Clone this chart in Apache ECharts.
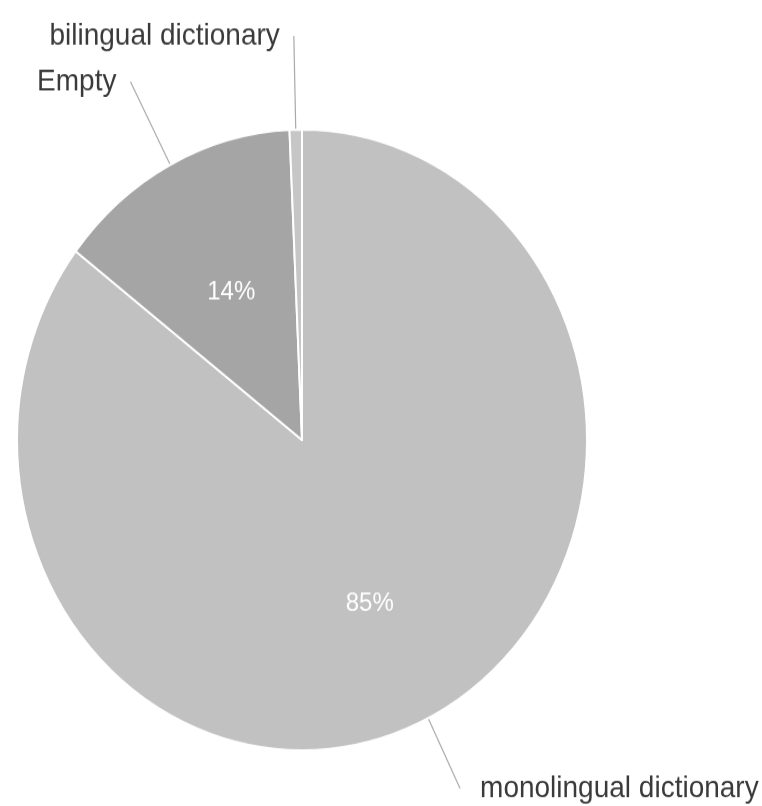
<!DOCTYPE html>
<html>
<head>
<meta charset="utf-8">
<script src="https://cdn.jsdelivr.net/npm/echarts@6/dist/echarts.min.js"></script>
<style>
  html, body { margin: 0; padding: 0; background: #fff; }
  #wrap { width: 762px; height: 806px; position: relative; overflow: hidden; }
  /* reference pie is stretched vertically, so the chart is drawn and then scaled */
  #main { position: absolute; left: 0; top: 0; width: 762px; height: 740px; transform: scaleY(1.089); transform-origin: 0 0; }
</style>
</head>
<body>
<div id="wrap"><div id="main"></div></div>
<script>
    var categories = ['monolingual dictionary', 'Empty', 'bilingual dictionary'];
    var values = [85.4, 13.9, 0.7];
    var colors = ['#c1c1c1', '#a5a5a5', '#c6c6c6'];
    var lineLengths = [72, 86, 86];

    var total = values.reduce(function (a, b) { return a + b; }, 0);
    var pieData = categories.map(function (name, i) {
        return {
            name: name,
            value: values[i],
            itemStyle: { color: colors[i] },
            labelLine: { length: lineLengths[i] },
            label: i === 0 ? { distanceToLabelLine: 20 } : {}
        };
    });

    var chart = echarts.init(document.getElementById('main'));
    var option = {
        animation: false,
        series: [
            {
                type: 'pie',
                center: [302, 404],
                radius: 285,
                startAngle: 90,
                clockwise: true,
                silent: true,
                itemStyle: { borderColor: '#fff', borderWidth: 2 },
                label: {
                    show: true,
                    position: 'outside',
                    color: '#3a3a3a',
                    fontSize: 28,
                    fontFamily: 'Liberation Sans, Arial, sans-serif',
                    distanceToLabelLine: 14,
                    overflow: 'none',
                    formatter: '{b}'
                },
                labelLine: {
                    show: true,
                    length: 86,
                    length2: 0,
                    lineStyle: { color: '#aaa', width: 1.2 }
                },
                emphasis: { disabled: true },
                data: pieData
            },
            {
                // inner percentage labels
                type: 'pie',
                center: [302, 404],
                radius: [0, 300],
                startAngle: 90,
                clockwise: true,
                silent: true,
                itemStyle: { color: 'transparent', borderWidth: 0 },
                label: {
                    show: true,
                    position: 'inside',
                    color: '#fff',
                    fontSize: 24,
                    fontFamily: 'Liberation Sans, Arial, sans-serif',
                    formatter: function (p) {
                        var pct = Math.round(p.value / total * 100);
                        return pct >= 5 ? pct + '%' : '';
                    }
                },
                labelLine: { show: false },
                emphasis: { disabled: true },
                data: categories.map(function (name, i) {
                    return { name: name, value: values[i], label: i === 0 ? { offset: [0, 13] } : {} };
                })
            }
        ]
    };
    chart.setOption(option);
</script>
</body>
</html>
